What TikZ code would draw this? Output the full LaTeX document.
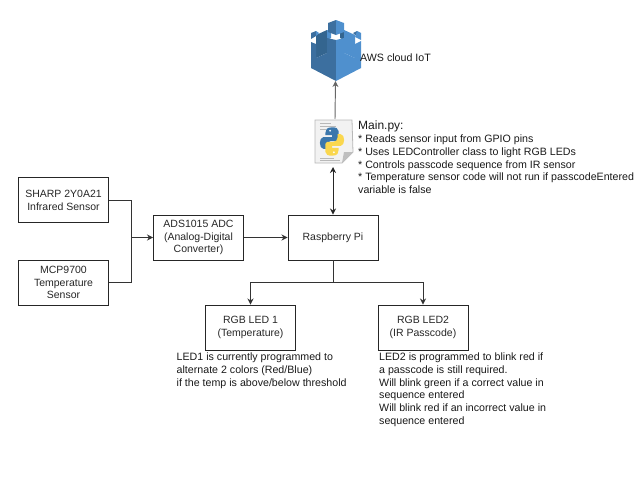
\documentclass[tikz,border=0pt]{standalone}
\usepackage{fontspec}
\setmainfont{Liberation Sans}
\usetikzlibrary{arrows.meta}
\definecolor{awsl}{HTML}{4F90CE}
\definecolor{awsd}{HTML}{3C6F9F}
\definecolor{awsm}{HTML}{34658F}
\definecolor{pyblue}{HTML}{3B77AC}
\definecolor{pyyellow}{HTML}{FAD74E}
\newcommand{\pylobe}{(0,-14.5) .. controls (-6,-14.5) and (-7,-11.5) .. (-7,-8.5) -- (-7,-6.5) -- (0,-6.5) -- (0,-4.5) -- (-9,-4.5) .. controls (-14,-4.5) and (-14,7.5) .. (-9,7.5) -- (-6,7.5) -- (-6,4.5) .. controls (-6,1.5) and (-4,-0.5) .. (-1,-0.5) -- (5,-0.5) .. controls (7,-0.5) and (7,-2.5) .. (7,-4.5) -- (7,-10.5) .. controls (7,-13.5) and (4,-14.5) .. (0,-14.5) -- cycle}
\tikzset{
  box/.style={draw=black!85,line width=.95pt,minimum width=90pt,minimum height=45pt,inner sep=1pt,align=center,font=\fontsize{10.5}{12.8}\selectfont,text=black!85},
  conn/.style={draw=black!80,line width=.95pt,-{Stealth[length=6pt,width=6pt]}},
  plain/.style={draw=black!80,line width=.95pt},
  txt/.style={anchor=north west,inner sep=0pt,align=left,font=\fontsize{10.65}{12.9}\selectfont,text=black!90},
}
\begin{document}
\begin{tikzpicture}[x=1pt,y=-1pt]
\useasboundingbox (0,0) rectangle (643,482);
\node[box] (ir) at (63.5,200) {SHARP 2Y0A21\\Infrared Sensor};
\node[box] (temp) at (63.5,282.5) {MCP9700\\Temperature\\Sensor};
\node[box] (adc) at (198.5,237.5) {ADS1015 ADC\\(Analog-Digital\\Converter)};
\node[box] (pi) at (333,237.5) {Raspberry Pi};
\node[box] (led1) at (250.5,327.5) {RGB LED 1\\(Temperature)};
\node[box] (led2) at (423,327.5) {RGB LED2\\(IR Passcode)};
\coordinate (mid) at (131,237.5);
\draw[plain] (ir.east) -| (mid);
\draw[plain] (temp.east) -| (mid);
\draw[conn] (mid) -- (adc.west);
\draw[conn] (adc.east) -- (pi.west);
\coordinate (split) at (333,282.5);
\draw[plain] (pi.south) -- (split);
\draw[conn] (split) -| (led1.north);
\draw[conn] (split) -| (led2.north);
% python file icon
\coordinate (pyb) at (333,167);
\coordinate (pyt) at (335,119);
\fill[black!5] (315,120) -- (352,120) -- (353,152) -- (342,163) -- (315,163) -- cycle;
\draw[black!28,line width=.8pt] (315,120) -- (352,120) -- (353,152) -- (342,163) -- (315,163) -- cycle;
\fill[black!25] (353,152) -- (344,152) -- (342,163) -- cycle;
\foreach \yy/\xa in {123/331,126/336,129/326,158/334,160/340}{\draw[black!28,line width=.5pt] (320,\yy) -- (\xa,\yy);}
\begin{scope}[shift={(332,141.5)},x=.95pt,y=-.98pt]
\fill[pyblue] \pylobe;
\fill[white] (-2,-11) circle (1pt);
\end{scope}
\begin{scope}[shift={(332,141.5)},x=-.95pt,y=.98pt]
\fill[pyyellow] \pylobe;
\fill[white] (-2,-11) circle (1pt);
\end{scope}
\draw[draw=black!85,line width=.95pt,{Stealth[length=6pt,width=6pt]}-{Stealth[length=6pt,width=6pt]}] (pyb) -- (pi.north);
% AWS icon
\fill[awsm] (316,35) -- (327,30) -- (327,53) -- (316,58) -- cycle;
\fill[awsl] (327,30) -- (331,32) -- (331,38) -- (327,40) -- cycle;
\fill[awsm] (340,32) -- (344,30) -- (344,40) -- (340,38) -- cycle;
\fill[awsl] (344,30) -- (355,35) -- (355,58) -- (344,53) -- cycle;
\fill[awsd] (311,33) -- (316,31) -- (316,36) -- (311,39) -- cycle;
\fill[awsl] (316,31) -- (319,33) -- (316,36) -- cycle;
\fill[awsd] (353,33) -- (357,31) -- (357,36) -- (355,35) -- cycle;
\fill[awsl] (357,31) -- (361,33) -- (361,40) -- (355,37) -- cycle;
\fill[awsd] (311,42) -- (316,44) -- (316,58) -- (327,53) -- (327,38) -- (336,40) -- (336,81) -- (311,68) -- cycle;
\fill[awsl] (336,40) -- (344,38) -- (344,53) -- (355,58) -- (355,44) -- (361,41) -- (361,68) -- (336,81) -- cycle;
\fill[awsd] (328,23) -- (336,20) -- (336,35) -- (328,32) -- cycle;
\fill[awsl] (336,20) -- (344,23) -- (344,32) -- (336,35) -- cycle;
\coordinate (awsb) at (335.5,81);
\draw[draw=black!60,line width=.95pt,-{Stealth[length=6pt,width=6pt]}] (pyt) -- (awsb);
% labels
\node[txt] (awslab) at (360,54) {AWS cloud IoT};
\node[txt,font=\fontsize{12}{14}\selectfont] (mainhd) at (358,121) {Main.py:};
\node[txt] (mainbody) at (358,134.3) {* Reads sensor input from GPIO pins\\* Uses LEDController class to light RGB LEDs\\* Controls passcode sequence from IR sensor\\* Temperature sensor code will not run if passcodeEntered\\variable is false};
\node[txt] (l1t) at (176.5,352.3) {LED1 is currently programmed to\\alternate 2 colors (Red/Blue)\\if the temp is above/below threshold};
\node[txt] (l2t) at (379,352.3) {LED2 is programmed to blink red if\\a passcode is still required.\\Will blink green if a correct value in\\sequence entered\\Will blink red if an incorrect value in\\sequence entered};
\end{tikzpicture}
\end{document}
